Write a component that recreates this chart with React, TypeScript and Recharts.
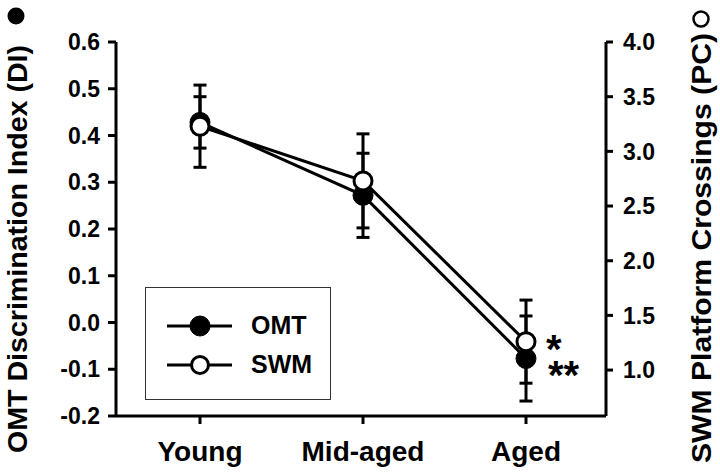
import React from 'react';
import { ComposedChart, Line, XAxis, YAxis, ErrorBar, LabelList, Legend, Customized } from 'recharts';

const categories = ['Young', 'Mid-aged', 'Aged'];
const omtDI = [0.428, 0.272, -0.077];
const omtErr = [0.055, 0.09, 0.091];
const swmPC = [3.23, 2.73, 1.26];
const swmErr = [0.376, 0.43, 0.38];
const omtSig = ['', '', '**'];
const swmSig = ['', '', '*'];
const diTicks = [-0.2, -0.1, 0, 0.1, 0.2, 0.3, 0.4, 0.5, 0.6];
const pcTicks = [1.0, 1.5, 2.0, 2.5, 3.0, 3.5, 4.0];

const FONT = '"Liberation Sans", Arial, sans-serif';

const data = categories.map((group, i) => ({
  group,
  omt: omtDI[i],
  omtErr: omtErr[i],
  omtSig: omtSig[i],
  swm: swmPC[i],
  swmErr: swmErr[i],
  swmSig: swmSig[i],
}));

const axisStroke = { stroke: '#000', strokeWidth: 3 };

const SigLabel = (dx: number, dy: number) => (props: any) => {
  const { x, y, value } = props;
  if (!value) return null;
  return (
    <text x={x + dx} y={y + dy} fontSize={40} fontWeight="bold" fontFamily={FONT} fill="#000">
      {value}
    </text>
  );
};

const LegendBox = () => (
  <div
    style={{
      width: 184,
      height: 111,
      border: '1px solid #333',
      background: '#fff',
      fontFamily: FONT,
      fontWeight: 'bold',
      fontSize: 25,
    }}
  >
    {[
      { name: 'OMT', fill: '#000' },
      { name: 'SWM', fill: '#fff' },
    ].map((item, i) => (
      <div key={item.name} style={{ display: 'flex', alignItems: 'center', height: 39, marginTop: i === 0 ? 18 : 0 }}>
        <svg width={105} height={30} style={{ display: 'block' }}>
          <line x1={21} y1={15} x2={86} y2={15} stroke="#000" strokeWidth={3} />
          <circle cx={54} cy={15} r={item.fill === '#000' ? 10 : 8.5} fill={item.fill} stroke="#000" strokeWidth={item.fill === '#000' ? 1 : 3} />
        </svg>
        <span style={{ color: '#000' }}>{item.name}</span>
      </div>
    ))}
  </div>
);

const AxisTitles = () => (
  <g fontFamily={FONT} fontWeight="bold" fill="#000">
    <circle cx={16} cy={16} r={8.5} fill="#000" />
    <text
      x={18}
      y={249}
      transform="rotate(-90 18 249)"
      textAnchor="middle"
      dominantBaseline="central"
      fontSize={27}
      textLength={408}
      lengthAdjust="spacingAndGlyphs"
    >
      OMT Discrimination Index (DI)
    </text>
    <circle cx={701} cy={19} r={7.5} fill="#fff" stroke="#000" strokeWidth={2.5} />
    <text
      x={701}
      y={248}
      transform="rotate(-90 701 248)"
      textAnchor="middle"
      dominantBaseline="central"
      fontSize={28}
      textLength={430}
      lengthAdjust="spacingAndGlyphs"
    >
      SWM Platform Crossings (PC)
    </text>
  </g>
);

export default function App() {
  return (
    <div style={{ position: 'absolute', left: 0, top: 0, width: 720, height: 473, background: '#fff' }}>
      <ComposedChart width={720} height={473} data={data} margin={{ top: 42, right: 0, bottom: 0, left: 0 }}>
        <XAxis
          dataKey="group"
          height={57}
          padding={{ left: 84, right: 80 }}
          axisLine={axisStroke}
          tickLine={axisStroke}
          tickSize={8}
          tickMargin={17}
          tick={{ fill: '#000', fontSize: 28, fontWeight: 'bold', fontFamily: FONT }}
        />
        <YAxis
          yAxisId="di"
          width={116}
          domain={[-0.2, 0.6]}
          ticks={diTicks}
          tickFormatter={(v: number) => v.toFixed(1)}
          axisLine={axisStroke}
          tickLine={axisStroke}
          tickSize={8}
          tickMargin={8}
          tick={{ fill: '#000', fontSize: 23, fontWeight: 'bold', fontFamily: FONT }}
        />
        <YAxis
          yAxisId="pc"
          orientation="right"
          width={114}
          domain={[0.58, 4]}
          ticks={pcTicks}
          tickFormatter={(v: number) => v.toFixed(1)}
          axisLine={axisStroke}
          tickLine={axisStroke}
          tickSize={7}
          tickMargin={10}
          tick={{ fill: '#000', fontSize: 23, fontWeight: 'bold', fontFamily: FONT }}
        />
        <Legend
          layout="horizontal"
          verticalAlign="middle"
          align="center"
          content={() => <LegendBox />}
          wrapperStyle={{ left: 145, top: 287, width: 186, height: 113 }}
        />
        <Line
          yAxisId="di"
          dataKey="omt"
          name="OMT"
          stroke="#000"
          strokeWidth={3}
          dot={{ r: 10, fill: '#000', stroke: '#000', strokeWidth: 1 }}
          isAnimationActive={false}
        >
          <ErrorBar dataKey="omtErr" direction="y" width={6.5} stroke="#000" strokeWidth={3} />
          <LabelList dataKey="omtSig" content={SigLabel(22, 31)} />
        </Line>
        <Line
          yAxisId="pc"
          dataKey="swm"
          name="SWM"
          stroke="#000"
          strokeWidth={3}
          dot={{ r: 9, fill: '#fff', stroke: '#000', strokeWidth: 3 }}
          isAnimationActive={false}
        >
          <ErrorBar dataKey="swmErr" direction="y" width={6.5} stroke="#000" strokeWidth={3} />
          <LabelList dataKey="swmSig" content={SigLabel(20, 21)} />
        </Line>
        <Customized component={AxisTitles} />
      </ComposedChart>
    </div>
  );
}
